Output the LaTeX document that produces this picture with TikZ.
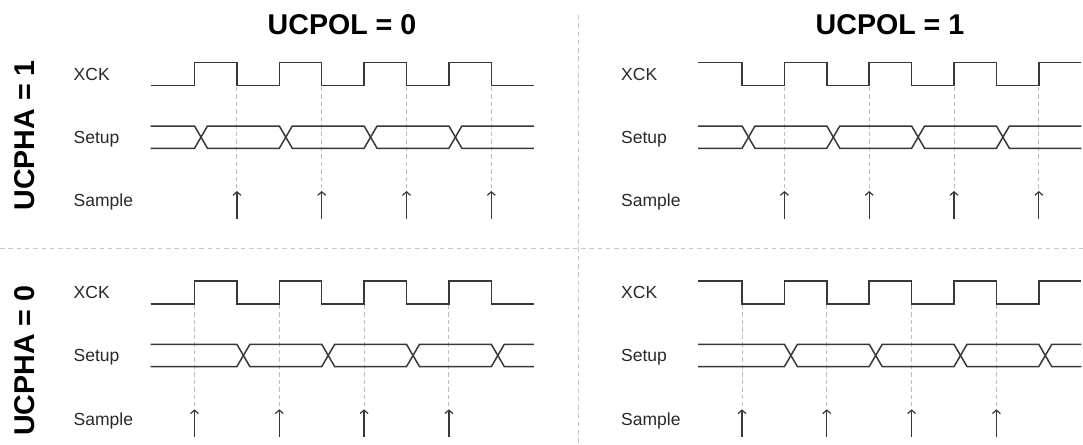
\documentclass[tikz,border=0pt]{standalone}
\usepackage{fontspec}
\setmainfont{Liberation Sans}
\usetikzlibrary{arrows.meta}
\definecolor{sigc}{RGB}{56,56,56}
\definecolor{txtc}{RGB}{40,40,40}
\definecolor{dashc}{RGB}{190,190,190}
\definecolor{sepc}{RGB}{200,200,200}
\tikzset{
  sig/.style={draw=sigc, line width=1.5pt, line join=miter},
  guide/.style={draw=dashc, line width=1pt, dash pattern=on 4.5pt off 3pt},
  sepline/.style={draw=sepc, line width=1pt, dash pattern=on 4.5pt off 3.8pt},
  samplearrow/.style={draw=sigc, line width=1.3pt, -{Straight Barb[length=3.5pt,width=8pt,line width=1.2pt]}},
  lbl/.style={anchor=base west, inner sep=0pt, text=txtc, font=\fontsize{17.5}{21}\selectfont},
  ttl/.style={anchor=center, inner sep=0pt, text=black, font=\bfseries\fontsize{28.6}{34}\selectfont},
}
\begin{document}
\begin{tikzpicture}[x=1pt, y=-1pt]
\useasboundingbox (0,0) rectangle (1083,444);

% separators
\draw[sepline] (578.3,15) -- (578.3,444);
\draw[sepline] (0,248.5) -- (1083,248.5);

% titles
\node[ttl] (tpol0) at (342,24.7) {UCPOL = 0};
\node[ttl] (tpol1) at (890,24.7) {UCPOL = 1};
\node[ttl, rotate=90] (tpha1) at (25,135.4) {UCPHA = 1};
\node[ttl, rotate=90] (tpha0) at (25,360.8) {UCPHA = 0};

\foreach \dx/\dy/\pol/\pha/\nm in {0/0/0/1/a, 547.5/0/1/1/b, 0/218.3/0/0/c, 547.5/218.3/1/0/d}{
  \begin{scope}[shift={(\dx,\dy)}]
    % labels
    \node[lbl] (xck\nm) at (73.5,80.5) {XCK};
    \node[lbl] (setup\nm) at (73.5,143.5) {Setup};
    \node[lbl] (sample\nm) at (73.5,206.9) {Sample};
    % guides and arrows
    \ifnum\pha=1
      \foreach \e/\k in {236.9/1,321.7/2,406.5/3,491.3/4}{
        \draw[guide] (\e,86.5) -- (\e,188);
        \coordinate (sb\nm\k) at (\e,218.5);
        \coordinate (st\nm\k) at (\e,191);
        \draw[samplearrow] (sb\nm\k) -- (st\nm\k);
      }
    \else
      \foreach \e/\k in {194.5/1,279.3/2,364.1/3,448.9/4}{
        \draw[guide] (\e,86.5) -- (\e,188);
        \coordinate (sb\nm\k) at (\e,218.5);
        \coordinate (st\nm\k) at (\e,191);
        \draw[samplearrow] (sb\nm\k) -- (st\nm\k);
      }
    \fi
    % clock
    \ifnum\pol=0
      \draw[sig] (150.5,85.7) -| (194.5,62.7) -| (236.9,85.7) -| (279.3,62.7) -| (321.7,85.7)
        -| (364.1,62.7) -| (406.5,85.7) -| (448.9,62.7) -| (491.3,85.7) -- (533.8,85.7);
    \else
      \draw[sig] (150.5,62.7) -| (194.5,85.7) -| (236.9,62.7) -| (279.3,85.7) -| (321.7,62.7)
        -| (364.1,85.7) -| (406.5,62.7) -| (448.9,85.7) -| (491.3,62.7) -- (533.8,62.7);
    \fi
    % setup bus
    \ifnum\pha=1
      \draw[sig] (150.5,126) -- (194.5,126) -- (207.5,148.3) -- (279.3,148.3) -- (292.3,126)
        -- (364.1,126) -- (377.1,148.3) -- (448.9,148.3) -- (461.9,126) -- (533.8,126);
      \draw[sig] (150.5,148.3) -- (194.5,148.3) -- (207.5,126) -- (279.3,126) -- (292.3,148.3)
        -- (364.1,148.3) -- (377.1,126) -- (448.9,126) -- (461.9,148.3) -- (533.8,148.3);
    \else
      \draw[sig] (150.5,126) -- (236.9,126) -- (249.9,148.3) -- (321.7,148.3) -- (334.7,126)
        -- (406.5,126) -- (419.5,148.3) -- (491.3,148.3) -- (504.3,126) -- (533.8,126);
      \draw[sig] (150.5,148.3) -- (236.9,148.3) -- (249.9,126) -- (321.7,126) -- (334.7,148.3)
        -- (406.5,148.3) -- (419.5,126) -- (491.3,126) -- (504.3,148.3) -- (533.8,148.3);
    \fi
  \end{scope}
}
\end{tikzpicture}
\end{document}
